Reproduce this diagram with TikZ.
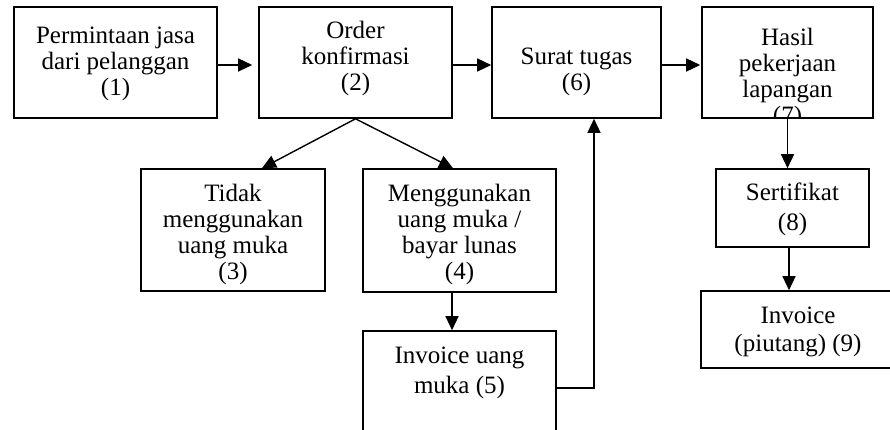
\documentclass[tikz,border=0pt]{standalone}
\usepackage{fontspec}
\setmainfont{Liberation Serif}
\usetikzlibrary{arrows.meta}
\begin{document}
\begin{tikzpicture}[x=1pt,y=-1pt,
  kotak/.style={draw, line width=1.6pt, inner sep=0pt},
  teks/.style={align=center, inner sep=0pt, font=\fontsize{25}{26}\selectfont},
  panah/.style={line width=1.4pt, -{Triangle[length=14pt,width=13pt]}}]
\clip (0,0) rectangle (890,430);

% Kotak baris atas
\node[kotak, minimum width=203pt, minimum height=111pt] (b1) at (115.5,62.5) {};
\node[kotak, minimum width=193pt, minimum height=111pt] (b2) at (355.5,62.5) {};
\node[kotak, minimum width=169pt, minimum height=111pt] (b6) at (576.5,62.5) {};
\node[kotak, minimum width=171pt, minimum height=111pt] (b7) at (787.5,62.5) {};

% Kotak baris bawah
\node[kotak, minimum width=184pt, minimum height=122pt] (b3) at (233,230) {};
\node[kotak, minimum width=193pt, minimum height=123pt] (b4) at (459.5,230.5) {};
\node[kotak, minimum width=193pt, minimum height=114pt] (b5) at (459.5,388) {};
\node[kotak, minimum width=153pt, minimum height=78pt] (b8) at (792.5,208) {};
\node[kotak, minimum width=200pt, minimum height=77pt] (b9) at (801,329.5) {};

% Teks
\node[teks] (t1) at (115.5,64) {Permintaan jasa\\dari pelanggan\\(1)};
\node[teks] (t2) at (355.5,58) {Order\\konfirmasi\\(2)};
\node[teks] (t6) at (576.5,72) {Surat tugas\\(6)};
\node[teks] (t3) at (233,234) {Tidak\\menggunakan\\uang muka\\(3)};
\node[teks] (t4) at (459.5,234) {Menggunakan\\uang muka /\\bayar lunas\\(4)};
\node[teks] (t5) at (459.5,373) {Invoice uang\\[4pt]muka (5)};
\node[teks] (t8) at (792.5,209) {Sertifikat\\[4pt](8)};
\node[teks] (t9) at (798,332) {Invoice\\[2pt](piutang) (9)};
% teks kotak 7 terpotong oleh tepi kotak
\begin{scope}
  \clip (b7.north west) rectangle (b7.south east);
  \node[teks] (t7) at (787.5,78) {Hasil\\pekerjaan\\lapangan\\(7)};
\end{scope}

% Panah
\draw[panah, shorten >=6pt] ([yshift=-2.5pt]b1.east) -- ([yshift=-2.5pt]b2.west);
\draw[panah] ([yshift=-2.5pt]b2.east) -- ([yshift=-2.5pt]b6.west);
\draw[panah, shorten >=1pt] ([yshift=-2.5pt]b6.east) -- ([yshift=-2.5pt]b7.west);
\draw[panah] (b2.south) -- ([xshift=29pt]b3.north);
\draw[panah] (b2.south) -- ([xshift=-6.5pt]b4.north);
\draw[panah] ([xshift=-7.5pt]b4.south) -- ([xshift=-7.5pt]b5.north);
\draw[panah] (b5.east) -| ([xshift=17.5pt]b6.south);
\draw[panah] (b7.south) -- (b7.south |- b8.north);
\draw[panah] ([xshift=-3.5pt]b8.south) -- ([xshift=-3.5pt]b8.south |- b9.north);
\end{tikzpicture}
\end{document}
